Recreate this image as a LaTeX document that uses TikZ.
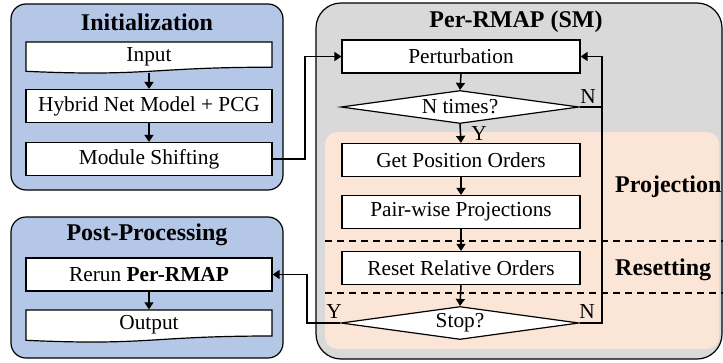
\documentclass[tikz,border=0pt]{standalone}
\usepackage{fontspec}
\setmainfont{Liberation Serif}
\usetikzlibrary{shapes.geometric,arrows.meta}
\definecolor{blueA}{HTML}{B4C7E7}
\definecolor{grayA}{HTML}{D9D9D9}
\definecolor{orangeA}{HTML}{FBE5D6}
\begin{document}
\begin{tikzpicture}[x=1pt,y=-1pt,
  font=\fontsize{21.33}{24}\selectfont,
  frame/.style={draw=black,line width=1.2pt},
  box/.style={draw,fill=white,line width=1.2pt,minimum width=246pt,minimum height=33pt,inner sep=0pt},
  rbox/.style={draw,fill=white,line width=1.2pt,minimum width=238pt,minimum height=33pt,inner sep=0pt},
  doctext/.style={inner sep=0pt,minimum width=246pt,minimum height=31pt},
  dia/.style={diamond,draw,fill=white,aspect=7,inner sep=0pt,minimum width=238pt,minimum height=33pt,line width=1.2pt},
  conn/.style={line width=1.5pt},
  arr/.style={line width=1.5pt,-{Triangle[length=7pt,width=9pt]}},
  title/.style={font=\fontsize{24}{28}\selectfont\bfseries,inner sep=0pt},
  lbl/.style={inner sep=0pt},
  sep/.style={line width=1.2pt,dash pattern=on 7pt off 5pt}]
\useasboundingbox (0,0) rectangle (723,362);
% frames
\draw[frame,fill=blueA,rounded corners=15pt] (11,4) rectangle (283,190);
\draw[frame,fill=blueA,rounded corners=15pt] (11,217) rectangle (283,358);
\draw[frame,fill=grayA,rounded corners=25pt] (316,3) rectangle (722,359);
\fill[orangeA,rounded corners=12pt] (325,132) rectangle (719,349);
\draw[sep] (325,241) -- (723,241);
\draw[sep] (325,293) -- (723,293);
% titles
\node[title] (t1) at (147,22) {Initialization};
\node[title] (t2) at (147,235) {Post-Processing};
\node[title] (t3) at (516,22) {Per-RMAP (SM)};
\node[title,anchor=west] (tp) at (615,187) {Projection};
\node[title,anchor=west] (tr) at (615,270) {Resetting};
% document shapes
\draw[line width=1.2pt,fill=white] (26,42) -- (272,42) -- (272,67.2)
  .. controls (149,67.2) and (149,76.8) .. (26,71.3) -- cycle;
\node[doctext] (input) at (149,57) {Input};
\node[box] (hybrid) at (149,106) {Hybrid Net Model + PCG};
\node[box] (module) at (149,159) {Module Shifting};
\node[box] (rerun) at (149,274.5) {Rerun \textbf{Per-RMAP}};
\draw[line width=1.2pt,fill=white] (26,310) -- (272,310) -- (272,336)
  .. controls (149,336) and (149,345.9) .. (26,340.3) -- cycle;
\node[doctext] (output) at (149,325) {Output};
% right column
\node[rbox] (perturb) at (461,56.5) {Perturbation};
\node[dia] (ntimes) at (460,107) {N times?};
\node[rbox] (getpos) at (461,160) {Get Position Orders};
\node[rbox] (pair) at (461,212) {Pair-wise Projections};
\node[rbox] (reset) at (461,268) {Reset Relative Orders};
\node[dia] (stop) at (460,323) {Stop?};
\coordinate (rail) at (602,0);
\coordinate (lrail) at (307,0);
\coordinate (mrail) at (305,0);
% connectors
\draw[arr] (input.south) -- (hybrid.north);
\draw[arr] (hybrid.south) -- (module.north);
\draw[arr] (rerun.south) -- (output.north);
\draw[arr] (module.east) -- (mrail |- module.east) |- (perturb.west);
\draw[arr] (perturb.south) -- (ntimes.north);
\draw[arr] (ntimes.south) -- (getpos.north);
\draw[conn] (ntimes.east) -- (rail |- ntimes.east);
\draw[arr] (getpos.south) -- (pair.north);
\draw[arr] (pair.south) -- (reset.north);
\draw[arr] (reset.south) -- (stop.north);
\draw[arr] (stop.east) -| (rail |- perturb.east) -- (perturb.east);
\draw[arr] (stop.west) -| (lrail |- rerun.east) -- (rerun.east);
% labels
\node[lbl] (y1) at (479,134) {Y};
\node[lbl] (n1) at (588,97) {N};
\node[lbl] (y2) at (334,312) {Y};
\node[lbl] (n2) at (587,312) {N};
\end{tikzpicture}
\end{document}
